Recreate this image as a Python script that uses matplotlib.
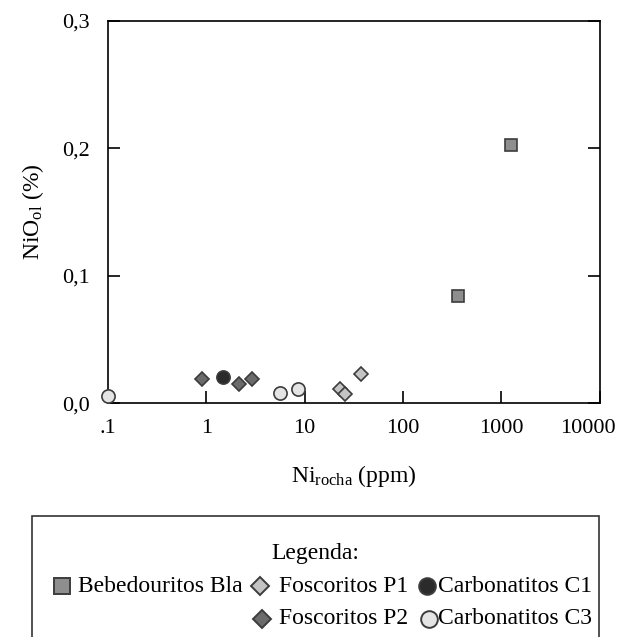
import matplotlib
matplotlib.use("Agg")
import matplotlib.pyplot as plt
from matplotlib.lines import Line2D
from matplotlib.patches import Rectangle
from matplotlib.transforms import ScaledTranslation

plt.rcParams["font.family"] = ["Liberation Serif", "DejaVu Serif"]
plt.rcParams["mathtext.fontset"] = "custom"
plt.rcParams["mathtext.rm"] = "Liberation Serif"
plt.rcParams["mathtext.it"] = "Liberation Serif"

# ---------- Data ----------
bla_ni = [360, 1250]
bla_nio = [0.084, 0.203]

p1_ni = [22.8, 25.6, 37.9]
p1_nio = [0.011, 0.0076, 0.0233]

p2_ni = [0.895, 2.14, 2.89]
p2_nio = [0.0194, 0.0155, 0.0194]

c1_ni = [1.49]
c1_nio = [0.0207]

c3_ni = [0.1, 5.65, 8.5]
c3_nio = [0.0060, 0.0084, 0.0115]

x_ticks = [0.1, 1, 10, 100, 1000, 10000]
x_labels = [".1", "1", "10", "100", "1000", "10000"]
y_ticks = [0.0, 0.1, 0.2, 0.3]
y_labels = ["0,0", "0,1", "0,2", "0,3"]

series = [
    ("Bebedouritos Bla", bla_ni, bla_nio, "s", "#8e8e8e", 8.5),
    ("Foscoritos P1", p1_ni, p1_nio, "D", "#c4c4c4", 7),
    ("Foscoritos P2", p2_ni, p2_nio, "D", "#6b6b6b", 7),
    ("Carbonatitos C1", c1_ni, c1_nio, "o", "#2b2b2b", 9.5),
    ("Carbonatitos C3", c3_ni, c3_nio, "o", "#e4e4e4", 9.5),
]
edge = "#3c3c3c"

fig = plt.figure(figsize=(6.26, 6.37), dpi=100)
ax = fig.add_axes([0.1725, 0.3669, 0.7852, 0.6001])

for name, xs, ys, mk, fc, ms in series:
    ax.plot(xs, ys, linestyle="none", marker=mk, markersize=ms,
            markerfacecolor=fc, markeredgecolor=edge, markeredgewidth=1.2,
            clip_on=False, zorder=3)

ax.set_xscale("log")
ax.set_xlim(0.1, 10000)
ax.set_ylim(0, 0.3)
ax.set_xticks(x_ticks)
ax.set_xticklabels(x_labels)
ax.xaxis.set_minor_locator(matplotlib.ticker.NullLocator())
ax.set_yticks(y_ticks)
ax.set_yticklabels(y_labels)

ax.tick_params(axis="x", direction="in", length=8.5, width=1.2, labelsize=16, pad=11)
ax.tick_params(axis="y", direction="in", length=8.5, width=1.2, labelsize=16, pad=13,
               right=True)
for s in ax.spines.values():
    s.set_linewidth(1.2)

# last x label sits a bit to the left so it stays inside the picture
last = ax.get_xticklabels()[-1]
last.set_transform(last.get_transform() + ScaledTranslation(-12 / 100, 0, fig.dpi_scale_trans))

ax.set_xlabel(r"$\mathregular{Ni_{rocha}}$ (ppm)", fontsize=17, labelpad=18)
ax.set_ylabel(r"$\mathregular{NiO_{ol}}$ (%)", fontsize=17, labelpad=12)

# ---------- Legend box (manual) ----------
W, H = 626, 637


def fx(px):
    return px / W


def fy(py):
    return 1 - py / H


fig.add_artist(Rectangle((fx(32), fy(660)), fx(599) - fx(32), fy(516) - fy(660),
                         transform=fig.transFigure, fill=False,
                         edgecolor="#333333", linewidth=1.2, clip_on=False))
fig.text(fx(315), fy(553), "Legenda:", ha="center", va="center", fontsize=17)

# (marker x, text x, row y) in pixels
legend_pos = [(62, 78, 586), (260, 279, 586), (262, 279, 619), (427, 438, 586), (429, 438, 619)]
legend_ms = [12, 9, 9, 12, 12]
for (name, xs, ys, mk, fc, ms), (mx, tx, ly), lms in zip(series, legend_pos, legend_ms):
    fig.add_artist(Line2D([fx(mx)], [fy(ly)], transform=fig.transFigure,
                          linestyle="none", marker=mk, markersize=lms,
                          markerfacecolor=fc, markeredgecolor=edge,
                          markeredgewidth=1.4))
    fig.text(fx(tx), fy(ly), name, ha="left", va="center", fontsize=17)

fig.savefig("out.png", dpi=100)
